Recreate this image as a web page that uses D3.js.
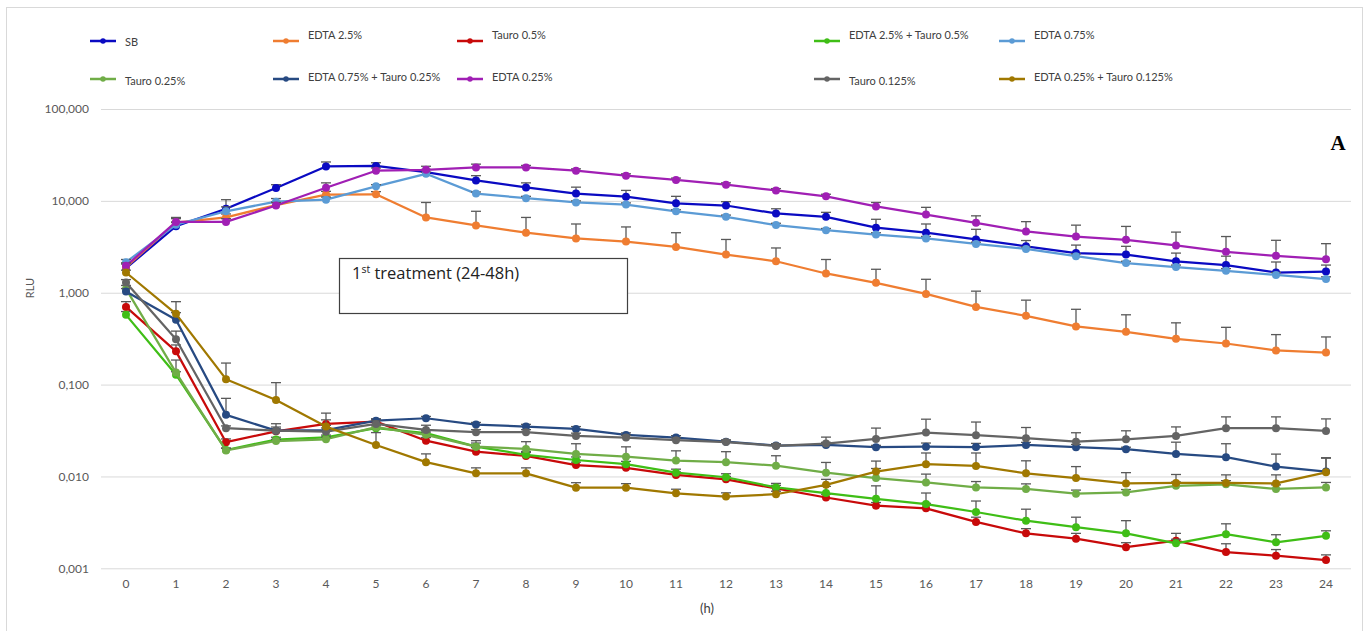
<!DOCTYPE html>
<html>
<head>
<meta charset="utf-8">
<script src="https://cdn.jsdelivr.net/npm/d3@7"></script>
<style>
  body { margin: 0; background: #fff; }
  svg { font-family: Lato, "Open Sans", sans-serif; }
</style>
</head>
<body>
<script>
const w = 1372;
const h = 631;

// hours on the x axis
const hours = d3.range(0, 25);
const yTicks = [0.001, 0.01, 0.1, 1, 10, 100];

const seriesNames = ["SB", "EDTA 2.5%", "Tauro 0.5%", "EDTA 2.5% + Tauro 0.5%", "EDTA 0.75%",
                     "Tauro 0.25%", "EDTA 0.75% + Tauro 0.25%", "EDTA 0.25%", "Tauro 0.125%", "EDTA 0.25% + Tauro 0.125%"];
const seriesColors = ["#0a0ac2", "#ef7d31", "#c80a0a", "#3fbe16", "#5b9bd5",
                      "#70ad47", "#274a82", "#a01fb4", "#646464", "#a07800"];

// mean RLU per hour
const sb        = [1.85, 5.3, 8.2, 13.8, 23.7, 24.0, 20.5, 16.7, 14.0, 12.0, 11.1, 9.4, 8.9, 7.3, 6.7, 5.1, 4.5, 3.8, 3.2, 2.7, 2.6, 2.2, 2.0, 1.66, 1.70];
const edta25    = [1.9, 5.8, 6.6, 9.0, 11.7, 11.8, 6.6, 5.4, 4.5, 3.9, 3.6, 3.15, 2.6, 2.2, 1.62, 1.28, 0.97, 0.70, 0.56, 0.43, 0.375, 0.315, 0.28, 0.235, 0.223];
const tauro05   = [0.70, 0.23, 0.0236, 0.031, 0.0373, 0.0395, 0.0245, 0.0186, 0.0167, 0.0133, 0.0124, 0.0104, 0.0093, 0.0074, 0.0059, 0.0048, 0.0045, 0.0032, 0.0024, 0.0021, 0.0017, 0.0020, 0.0015, 0.00137, 0.00123];
const edta25t05 = [0.574, 0.128, 0.0194, 0.0252, 0.0267, 0.0335, 0.0296, 0.0211, 0.0172, 0.0151, 0.0136, 0.011, 0.0098, 0.0076, 0.0066, 0.0057, 0.0050, 0.0041, 0.0033, 0.0028, 0.0024, 0.00187, 0.00235, 0.00192, 0.00226];
const edta075   = [2.15, 5.5, 7.7, 9.8, 10.3, 14.4, 19.7, 12.0, 10.7, 9.6, 9.1, 7.7, 6.7, 5.45, 4.8, 4.3, 3.9, 3.4, 3.0, 2.5, 2.1, 1.9, 1.73, 1.56, 1.41];
const tauro025  = [1.1, 0.135, 0.0192, 0.0243, 0.0254, 0.0344, 0.0284, 0.0211, 0.0199, 0.0176, 0.0164, 0.0149, 0.0143, 0.0131, 0.011, 0.0096, 0.0086, 0.0076, 0.0073, 0.0065, 0.0067, 0.0079, 0.0082, 0.0073, 0.0076];
const edta075t025 = [1.03, 0.507, 0.0468, 0.0315, 0.032, 0.0405, 0.043, 0.0367, 0.0349, 0.0329, 0.0283, 0.0265, 0.0239, 0.0217, 0.022, 0.0208, 0.0211, 0.0209, 0.022, 0.0208, 0.0198, 0.0176, 0.0162, 0.0128, 0.0113];
const edta025   = [1.96, 5.9, 5.9, 8.9, 13.9, 21.3, 21.8, 23.1, 23.1, 21.3, 18.8, 16.9, 15.0, 13.0, 11.2, 8.7, 7.1, 5.77, 4.64, 4.09, 3.77, 3.27, 2.79, 2.52, 2.32];
const tauro0125 = [1.29, 0.312, 0.0335, 0.0315, 0.0307, 0.0373, 0.0321, 0.0303, 0.0303, 0.0276, 0.0265, 0.0248, 0.0237, 0.0215, 0.0228, 0.0256, 0.030, 0.0281, 0.0261, 0.0239, 0.0254, 0.0276, 0.0335, 0.0335, 0.0313];
const edta025t0125 = [1.66, 0.589, 0.1145, 0.068, 0.0349, 0.022, 0.0143, 0.0108, 0.0108, 0.00755, 0.00755, 0.00656, 0.00603, 0.0064, 0.0081, 0.0113, 0.0136, 0.013, 0.0108, 0.0096, 0.0084, 0.0085, 0.0085, 0.0084, 0.0111];

// standard deviations (upper error bars only)
const sbSd        = [0.2, 0.5, 2.1, 1.2, 2.8, 2.0, 1.5, 2.1, 1.7, 2.1, 1.9, 1.8, 0.9, 0.9, 0.8, 1.2, 1.1, 1.1, 0.5, 0.6, 0.6, 0.5, 0.5, 0.5, 0.3];
const edta25Sd    = [0.2, 0.6, 0.6, 0.8, 1.0, 0.8, 3.0, 2.3, 2.1, 1.7, 1.6, 1.35, 1.2, 0.87, 0.68, 0.52, 0.43, 0.34, 0.27, 0.23, 0.2, 0.155, 0.14, 0.115, 0.107];
const tauro05Sd   = [0.1, 0.04, 0.002, 0.002, 0.004, 0.002, 0.002, 0.002, 0.0015, 0.001, 0.001, 0.0008, 0.0007, 0.0006, 0.0005, 0.0004, 0.0006, 0.0004, 0.0003, 0.0003, 0.0002, 0.0004, 0.00035, 0.00023, 0.00017];
const edta25t05Sd = [0.05, 0.01, 0.001, 0.0015, 0.0015, 0.002, 0.002, 0.002, 0.0015, 0.0012, 0.001, 0.001, 0.0009, 0.0008, 0.0012, 0.0022, 0.0016, 0.0013, 0.0011, 0.0008, 0.0009, 0.0002, 0.0007, 0.0004, 0.0003];
const edta075Sd   = [0.15, 0.4, 0.9, 0.8, 0.7, 0.6, 0.8, 0.5, 0.5, 0.4, 0.4, 0.3, 0.3, 0.25, 0.2, 0.2, 0.2, 0.15, 0.15, 0.15, 0.1, 0.1, 0.1, 0.1, 0.08];
const tauro025Sd  = [0.1, 0.05, 0.001, 0.001, 0.0015, 0.002, 0.002, 0.0034, 0.004, 0.0051, 0.0046, 0.0041, 0.0043, 0.0037, 0.0032, 0.0026, 0.002, 0.0012, 0.001, 0.0006, 0.0005, 0.0008, 0.0008, 0.0008, 0.001];
const edta075t025Sd = [0.08, 0.1, 0.024, 0.003, 0.004, 0.002, 0.002, 0.002, 0.002, 0.002, 0.0015, 0.0013, 0.001, 0.001, 0.0015, 0.001, 0.002, 0.002, 0.0015, 0.0015, 0.001, 0.006, 0.0065, 0.0047, 0.0045];
const edta025Sd   = [0.15, 0.7, 0.5, 0.7, 1.8, 1.5, 2.0, 2.0, 1.2, 1.0, 0.9, 0.8, 0.7, 0.6, 0.6, 0.9, 1.4, 1.1, 1.3, 1.35, 1.5, 1.3, 1.3, 1.2, 1.1];
const tauro0125Sd = [0.1, 0.07, 0.002, 0.006, 0.003, 0.003, 0.004, 0.002, 0.002, 0.002, 0.0015, 0.0015, 0.0012, 0.001, 0.004, 0.008, 0.012, 0.011, 0.008, 0.006, 0.006, 0.007, 0.011, 0.011, 0.011];
const edta025t0125Sd = [0.1, 0.21, 0.057, 0.037, 0.014, 0.008, 0.0033, 0.0016, 0.0016, 0.001, 0.0008, 0.0007, 0.0006, 0.0005, 0.0012, 0.0034, 0.0044, 0.005, 0.004, 0.0032, 0.0026, 0.002, 0.0019, 0.002, 0.0049];

const means = [sb, edta25, tauro05, edta25t05, edta075, tauro025, edta075t025, edta025, tauro0125, edta025t0125];
const sds = [sbSd, edta25Sd, tauro05Sd, edta25t05Sd, edta075Sd, tauro025Sd, edta075t025Sd, edta025Sd, tauro0125Sd, edta025t0125Sd];

const series = seriesNames.map((name, i) => ({
  name: name,
  color: seriesColors[i],
  points: hours.map((hr, j) => ({hour: hr, value: means[i][j], sd: sds[i][j]}))
}));

const plotLeft = 101, plotRight = 1351, plotTop = 109, plotBottom = 568.3;

const xScale = d3.scaleBand().domain(hours).range([plotLeft, plotRight]);
const xc = d => xScale(d) + xScale.bandwidth() / 2;
const yScale = d3.scaleLog().domain([0.001, 100]).range([plotBottom, plotTop]);

const svg = d3.select("body").append("svg")
  .attr("width", w)
  .attr("height", h);

svg.append("rect")
  .attr("x", 0).attr("y", 0).attr("width", w).attr("height", h)
  .attr("fill", "#fff");

// outer chart border
svg.append("rect")
  .attr("x", 6.5).attr("y", 7.5)
  .attr("width", 1356).attr("height", 640)
  .attr("fill", "none")
  .attr("stroke", "#d9d9d9");

const fmt = v => d3.format(".3f")(v).replace(".", ",");

const yAxis = d3.axisLeft(yScale)
  .tickValues(yTicks)
  .tickFormat(fmt)
  .tickSize(-(plotRight - plotLeft))
  .tickPadding(12);

const gy = svg.append("g")
  .attr("transform", "translate(" + plotLeft + ",0)")
  .call(yAxis);
gy.select(".domain").remove();
gy.selectAll(".tick line").attr("stroke", "#d9d9d9");
gy.selectAll(".tick text").attr("fill", "#595959").attr("font-size", 12)
  .style("font-family", "Lato, sans-serif");

const xAxis = d3.axisBottom(xScale).tickSize(0).tickPadding(11.5);
const gx = svg.append("g")
  .attr("transform", "translate(0," + plotBottom + ")")
  .call(xAxis);
gx.select(".domain").remove();
gx.selectAll(".tick text").attr("fill", "#595959").attr("font-size", 12)
  .style("font-family", "Lato, sans-serif");

// axis titles
svg.append("text")
  .attr("transform", "translate(34,288) rotate(-90)")
  .attr("text-anchor", "middle")
  .attr("fill", "#595959")
  .attr("font-size", 11)
  .text("RLU");

svg.append("text")
  .attr("x", 707).attr("y", 613)
  .attr("text-anchor", "middle")
  .attr("fill", "#404040")
  .attr("font-size", 13)
  .text("(h)");

// annotation box
svg.append("rect")
  .attr("x", 339.5).attr("y", 258.5)
  .attr("width", 288).attr("height", 55)
  .attr("fill", "#fff")
  .attr("stroke", "#404040")
  .attr("stroke-width", 1.2);

const ann = svg.append("text")
  .attr("x", 352).attr("y", 279)
  .attr("fill", "#222")
  .style("font-family", "'Open Sans', sans-serif")
  .attr("font-size", 16.5);
ann.append("tspan").text("1");
ann.append("tspan").attr("font-size", 10.5).attr("dy", -6).text("st");
ann.append("tspan").attr("dy", 6).text(" treatment (24-48h)");

svg.append("text")
  .attr("x", 1338).attr("y", 150)
  .attr("text-anchor", "middle")
  .style("font-family", "'Liberation Serif', 'DejaVu Serif', serif")
  .attr("font-weight", "bold")
  .attr("font-size", 21)
  .attr("fill", "#000")
  .text("A");

// series: line, error bars, markers
const line = d3.line()
  .x(d => xc(d.hour))
  .y(d => yScale(d.value));

series.forEach(s => {
  const g = svg.append("g");
  g.append("path")
    .datum(s.points)
    .attr("d", line)
    .attr("fill", "none")
    .attr("stroke", s.color)
    .attr("stroke-width", 2.25)
    .attr("stroke-linejoin", "round");

  const eb = g.selectAll(".eb").data(s.points).enter().append("g");
  eb.append("line")
    .attr("x1", d => xc(d.hour)).attr("x2", d => xc(d.hour))
    .attr("y1", d => yScale(d.value))
    .attr("y2", d => yScale(d.value + d.sd))
    .attr("stroke", "#595959").attr("stroke-width", 1.3);
  eb.append("line")
    .attr("x1", d => xc(d.hour) - 5).attr("x2", d => xc(d.hour) + 5)
    .attr("y1", d => yScale(d.value + d.sd))
    .attr("y2", d => yScale(d.value + d.sd))
    .attr("stroke", "#595959").attr("stroke-width", 1.3);

  g.selectAll("circle").data(s.points).enter().append("circle")
    .attr("cx", d => xc(d.hour))
    .attr("cy", d => yScale(d.value))
    .attr("r", 4)
    .attr("fill", s.color);
});

// legend
const legendCols = [90, 273, 457, 814, 999];
const legendRows = [41, 79];
const legendTextDy = [1, -6, -6, -6, -6, 2, -2, -2, 2, -2];

const legend = svg.append("g");
series.forEach((s, i) => {
  const lx = legendCols[i % 5];
  const ly = legendRows[Math.floor(i / 5)];
  legend.append("line")
    .attr("x1", lx).attr("x2", lx + 26)
    .attr("y1", ly).attr("y2", ly)
    .attr("stroke", s.color).attr("stroke-width", 2.5);
  legend.append("circle")
    .attr("cx", lx + 13).attr("cy", ly).attr("r", 2.75)
    .attr("fill", s.color);
  legend.append("text")
    .attr("x", lx + 35)
    .attr("y", ly + legendTextDy[i])
    .attr("dy", "0.35em")
    .attr("fill", "#404040")
    .attr("font-size", 11)
    .text(s.name);
});
</script>
</body>
</html>
